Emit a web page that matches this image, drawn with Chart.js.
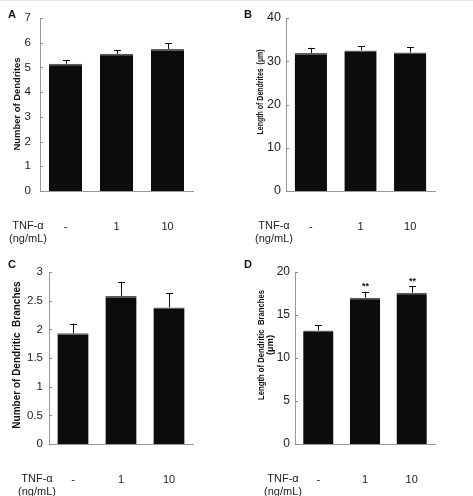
<!DOCTYPE html>
<html>
<head>
<meta charset="utf-8">
<script src="https://cdn.jsdelivr.net/npm/chart.js@4/dist/chart.umd.min.js"></script>
<style>
  body { margin: 0; background: #fff; font-family: "Liberation Sans", Arial, sans-serif; }
  #wrap { position: relative; width: 473px; height: 496px; overflow: hidden; border-top: 1px solid #e4e4e4; box-sizing: border-box; }
  .panel { position: absolute; }
  .letter { position: absolute; font-weight: bold; font-size: 11px; color: #111; }
  .dose { position: absolute; font-size: 11px; line-height: 13px; text-align: center; color: #222; width: 50px; }
</style>
</head>
<body>
<div id="wrap"></div>
<script>
/* DATA */
const doses = ["-", "1", "10"];

const dendriteCount = [5.15, 5.55, 5.75];
const dendriteCountErr = [0.15, 0.15, 0.22];

const dendriteLength = [31.9, 32.5, 32.0];
const dendriteLengthErr = [1.2, 1.0, 1.3];

const branchCount = [1.93, 2.58, 2.38];
const branchCountErr = [0.17, 0.25, 0.25];

const branchLength = [13.2, 17.0, 17.6];
const branchLengthErr = [0.6, 0.7, 0.75];
const branchLengthSig = ["", "**", "**"];

const FONT = '"Liberation Sans", Arial, sans-serif';

/* PANELS */
const panels = [
  { letter: "A", x: 0, y: 0, w: 236, h: 250,
    values: dendriteCount, errors: dendriteCountErr, marks: null,
    max: 7, step: 1,
    title: { lines: ["Number of Dendrites"], size: 9.5, x: 17, y: 103, width: 93, gap: 0 },
    area: { left: 40, right: 193, top: 17, bottom: 190 }, tickPad: 9, tickSize: 11.5 },
  { letter: "B", x: 236, y: 0, w: 237, h: 250,
    values: dendriteLength, errors: dendriteLengthErr, marks: null,
    max: 40, step: 10,
    title: { lines: ["Length of Dendrites  (µm)"], size: 9.5, x: 24, y: 91, width: 85, gap: 0 },
    area: { left: 50, right: 199, top: 17, bottom: 190 }, tickPad: 5, tickSize: 12.5 },
  { letter: "C", x: 0, y: 250, w: 236, h: 246,
    values: branchCount, errors: branchCountErr, marks: null,
    max: 3, step: 0.5,
    title: { lines: ["Number of Dendritic  Branches"], size: 10, x: 17, y: 104, width: 148, gap: 0 },
    area: { left: 49, right: 193, top: 21, bottom: 193 }, tickPad: 6, tickSize: 11.5 },
  { letter: "D", x: 236, y: 250, w: 237, h: 246,
    values: branchLength, errors: branchLengthErr, marks: branchLengthSig,
    max: 20, step: 5,
    title: { lines: ["Length of Dendritic  Branches", "(µm)"], size: 9.5, x: 25, y: 94, width: 110, gap: 9 },
    area: { left: 59, right: 199, top: 21, bottom: 193 }, tickPad: 5, tickSize: 12 }
];

/* PLUGINS */
const innerTicks = {
  id: "innerTicks",
  afterDraw(chart) {
    const s = chart.scales.y;
    const ctx = chart.ctx;
    ctx.save();
    ctx.strokeStyle = "#8a8a8a";
    ctx.lineWidth = 1;
    s.ticks.forEach((t, i) => {
      const py = Math.round(s.getPixelForTick(i)) + 0.5;
      ctx.beginPath();
      ctx.moveTo(s.right, py);
      ctx.lineTo(s.right + 3, py);
      ctx.stroke();
    });
    ctx.restore();
  }
};

// y title drawn by hand: the originals are squeezed and not always centred
const axisTitle = {
  id: "axisTitle",
  afterDraw(chart, args, opts) {
    const ctx = chart.ctx;
    ctx.save();
    ctx.translate(opts.x, opts.y);
    ctx.rotate(-Math.PI / 2);
    ctx.font = "bold " + opts.size + "px " + FONT;
    ctx.fillStyle = "#111";
    ctx.textAlign = "center";
    ctx.textBaseline = "middle";
    opts.lines.forEach((l, i) => ctx.fillText(l, 0, i * opts.gap, opts.width));
    ctx.restore();
  }
};

const errorBars = {
  id: "errorBars",
  afterDatasetsDraw(chart) {
    const ds = chart.data.datasets[0];
    const meta = chart.getDatasetMeta(0);
    const y = chart.scales.y;
    const ctx = chart.ctx;
    ctx.save();
    ctx.strokeStyle = "#111";
    ctx.fillStyle = "#111";
    ctx.lineWidth = 1;
    meta.data.forEach((bar, i) => {
      const top = y.getPixelForValue(ds.data[i] + ds.errors[i]);
      const bx = Math.round(bar.x) + 0.5;
      ctx.beginPath();
      ctx.moveTo(bx, bar.y);
      ctx.lineTo(bx, top);
      ctx.moveTo(bx - 3.5, Math.round(top) + 0.5);
      ctx.lineTo(bx + 3.5, Math.round(top) + 0.5);
      ctx.stroke();
      if (ds.marks && ds.marks[i]) {
        ctx.font = "bold 9px " + FONT;
        ctx.textAlign = "center";
        ctx.textBaseline = "middle";
        ctx.fillText(ds.marks[i], bx, top - 5);
      }
    });
    ctx.restore();
  }
};

/* BUILD */
function buildPanel(p) {
  const wrap = document.getElementById("wrap");
  const canvas = document.createElement("canvas");
  canvas.className = "panel";
  canvas.width = p.w;
  canvas.height = p.h;
  canvas.style.left = p.x + "px";
  canvas.style.top = p.y + "px";
  wrap.appendChild(canvas);

  const letter = document.createElement("div");
  letter.className = "letter";
  letter.textContent = p.letter;
  letter.style.left = (p.x + 8) + "px";
  letter.style.top = (p.y + 7) + "px";
  wrap.appendChild(letter);

  const dose = document.createElement("div");
  dose.className = "dose";
  dose.innerHTML = "TNF-α<br>(ng/mL)";
  dose.style.left = (p.x + p.area.left - 37) + "px";
  dose.style.top = (p.y + p.area.bottom + 28) + "px";
  wrap.appendChild(dose);

  new Chart(canvas, {
    type: "bar",
    data: {
      labels: doses,
      datasets: [{
        data: p.values,
        errors: p.errors,
        marks: p.marks,
        backgroundColor: "#0c0c0c",
        borderColor: "#5c5c5c",
        borderWidth: { top: 1.5, left: 0, right: 0, bottom: 0 },
        borderSkipped: "bottom",
        categoryPercentage: 1,
        barPercentage: 0.65
      }]
    },
    options: {
      responsive: false,
      animation: false,
      events: [],
      layout: { padding: { left: 0, right: p.w - p.area.right, top: p.area.top, bottom: 0 } },
      plugins: {
        legend: { display: false },
        tooltip: { enabled: false },
        axisTitle: p.title
      },
      scales: {
        x: {
          grid: { display: false, drawTicks: false },
          border: { color: "#9a9a9a" },
          ticks: { padding: 29, color: "#222", font: { family: FONT, size: 11 } },
          afterFit: s => { s.height = p.h - p.area.bottom; }
        },
        y: {
          min: 0,
          max: p.max,
          grid: { display: false, drawTicks: false },
          border: { color: "#9a9a9a" },
          ticks: {
            stepSize: p.step,
            padding: p.tickPad,
            color: "#222",
            font: { family: FONT, size: p.tickSize },
            callback: v => String(v)
          },
          afterFit: s => { s.width = p.area.left; }
        }
      }
    },
    plugins: [innerTicks, axisTitle, errorBars]
  });
}

panels.forEach(buildPanel);
</script>
</body>
</html>
